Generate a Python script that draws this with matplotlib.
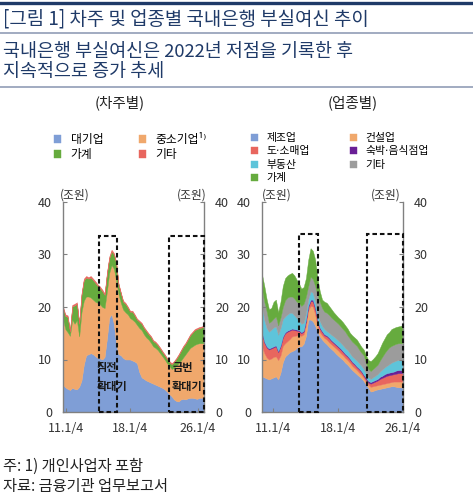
import matplotlib
matplotlib.use('Agg')
import numpy as np
import matplotlib.pyplot as plt
from matplotlib.lines import Line2D
from matplotlib.patches import Rectangle

plt.rcParams['font.family'] = ['Noto Sans CJK KR', 'DejaVu Sans']

W, H = 473, 500

# ---- data (조원, quarterly, 2011 -> latest) ----
# 차주별
large_firms = [5.2, 4.7, 4.4, 4.2, 4.6, 4.4, 4.3, 4.8, 6.0, 9.0,
               10.8, 11.0, 11.2, 11.0, 10.6, 10.3, 10.2, 10.0, 10.5, 14.0,
               18.0, 18.6, 16.8, 13.0, 11.0, 10.8, 10.3, 10.0, 10.0, 10.0,
               9.8, 9.6, 9.3, 7.6, 6.6, 6.3, 6.0, 5.8, 5.6, 5.4,
               5.2, 5.0, 4.8, 4.6, 4.3, 3.9, 3.4, 3.0, 2.4, 2.1,
               2.0, 2.4, 2.5, 2.4, 2.6, 2.7, 2.7, 2.6, 2.5, 2.7, 2.7, 2.7]
sme = [12.4, 11.1, 10.8, 10.3, 13.0, 12.4, 13.2, 9.6, 13.0, 12.2,
       11.2, 11.0, 10.6, 10.4, 10.4, 10.5, 10.3, 10.0, 9.3, 9.0,
       8.5, 9.4, 10.5, 12.0, 11.5, 10.0, 9.2, 9.0, 8.6, 7.9,
       7.8, 7.6, 7.3, 8.4, 9.0, 8.5, 8.2, 8.0, 7.6, 7.1,
       7.0, 6.8, 6.4, 6.0, 5.7, 5.4, 5.4, 5.2, 6.0, 6.7,
       7.3, 7.4, 7.9, 8.6, 9.0, 9.5, 9.8, 10.2, 10.5, 10.4, 10.4, 10.4]
household_a = [2.2, 2.5, 2.9, 0.8, 2.5, 3.5, 3.1, 2.4, 3.3, 3.9,
               3.6, 3.4, 3.8, 3.7, 3.6, 3.2, 3.1, 3.0, 2.5, 3.3,
               2.8, 2.6, 2.7, 3.3, 1.8, 1.8, 1.5, 1.6, 1.3, 1.2,
               1.5, 1.2, 1.0, 1.2, 1.2, 1.2, 1.2, 1.0, 1.1, 1.0,
               1.0, 0.9, 0.9, 0.8, 0.8, 0.8, 0.7, 0.9, 1.1, 1.3,
               1.5, 1.8, 2.0, 2.0, 2.2, 2.4, 2.6, 2.8, 2.8, 2.9, 3.0, 3.2]
other_a = [0.3, 0.3, 0.3, 0.2, 0.3, 0.3, 0.3, 0.3, 0.3, 0.3,
           0.3, 0.3, 0.3, 0.3, 0.3, 0.3, 0.3, 0.3, 0.3, 0.3,
           0.3, 0.3, 0.3, 0.3, 0.2, 0.2, 0.2, 0.2, 0.2, 0.2,
           0.2, 0.2, 0.2, 0.2, 0.2, 0.2, 0.2, 0.2, 0.2, 0.2,
           0.2, 0.2, 0.2, 0.2, 0.2, 0.2, 0.2, 0.2, 0.2, 0.2,
           0.2, 0.2, 0.2, 0.2, 0.2, 0.2, 0.2, 0.2, 0.2, 0.2, 0.2, 0.2]

# 업종별
manufacturing = [6.8, 6.6, 6.4, 6.2, 6.4, 6.6, 6.8, 6.2, 7.5, 9.5,
                 10.6, 11.0, 11.4, 11.6, 11.8, 12.2, 12.5, 12.5, 13.0, 14.5,
                 17.6, 17.6, 17.3, 16.4, 15.3, 14.4, 13.8, 13.3, 12.9, 12.4,
                 12.0, 11.6, 11.1, 10.7, 10.3, 9.9, 9.4, 9.0, 8.5, 8.0,
                 7.6, 7.2, 6.8, 6.4, 5.9, 5.2, 4.6, 3.9, 4.0, 4.2,
                 4.3, 4.4, 4.5, 4.6, 4.7, 4.8, 4.9, 4.9, 4.8, 4.7, 4.7, 4.6]
construction = [5.7, 4.6, 4.0, 3.8, 3.8, 3.9, 3.8, 3.7, 3.3, 3.1,
                2.5, 2.5, 2.5, 2.8, 2.7, 2.4, 2.2, 2.0, 1.8, 2.0,
                1.8, 2.6, 2.8, 2.2, 1.2, 0.8, 0.8, 0.8, 0.9, 0.9,
                0.9, 0.9, 1.0, 1.0, 0.9, 0.9, 0.9, 0.9, 0.9, 0.8,
                0.8, 0.8, 0.7, 0.7, 0.6, 0.6, 0.6, 0.9, 0.9, 0.8,
                0.8, 0.8, 0.8, 0.8, 0.8, 0.8, 0.8, 0.9, 1.0, 1.1, 1.1, 1.2]
retail = [2.5, 2.0, 1.9, 1.9, 1.9, 1.8, 1.9, 1.5, 1.7, 1.6,
          1.9, 1.8, 1.6, 1.3, 1.1, 0.9, 0.7, 0.5, 0.5, 0.8,
          0.6, 0.9, 1.0, 1.0, 0.9, 0.7, 0.6, 0.5, 0.6, 0.7,
          0.6, 0.6, 0.6, 0.6, 0.7, 0.6, 0.6, 0.6, 0.6, 0.6,
          0.6, 0.5, 0.6, 0.5, 0.4, 0.4, 0.4, 0.6, 0.7, 0.8,
          0.9, 1.1, 1.2, 1.3, 1.4, 1.4, 1.4, 1.4, 1.5, 1.6, 1.6, 1.6]
lodging = [0.2, 0.2, 0.2, 0.2, 0.2, 0.2, 0.2, 0.2, 0.2, 0.2,
           0.2, 0.2, 0.2, 0.2, 0.2, 0.2, 0.2, 0.2, 0.2, 0.3,
           0.3, 0.3, 0.3, 0.3, 0.2, 0.2, 0.2, 0.2, 0.2, 0.2,
           0.2, 0.2, 0.2, 0.2, 0.2, 0.2, 0.2, 0.2, 0.2, 0.2,
           0.2, 0.2, 0.2, 0.2, 0.2, 0.3, 0.3, 0.3, 0.3, 0.3,
           0.3, 0.4, 0.4, 0.5, 0.5, 0.5, 0.5, 0.5, 0.6, 0.6, 0.6, 0.6]
real_estate = [4.9, 4.1, 3.5, 3.2, 3.4, 3.6, 3.6, 3.1, 3.3, 3.3,
               3.0, 3.1, 3.2, 3.0, 2.6, 2.2, 1.9, 1.6, 1.5, 1.2,
               1.2, 1.6, 1.3, 1.1, 1.2, 1.2, 1.0, 1.0, 0.8, 0.9,
               1.0, 1.1, 1.1, 1.1, 1.1, 1.1, 1.1, 1.1, 1.0, 1.0,
               1.0, 1.1, 1.0, 1.0, 1.1, 0.8, 0.7, 0.6, 0.7, 0.8,
               0.9, 1.0, 1.2, 1.3, 1.4, 1.6, 1.8, 1.9, 1.9, 1.9, 2.0, 2.1]
other_b = [3.2, 3.5, 3.2, 1.7, 1.6, 1.7, 1.9, 1.8, 2.0, 2.3,
           3.1, 3.2, 3.1, 3.1, 3.2, 3.1, 3.3, 3.4, 3.6, 3.2,
           2.5, 2.8, 2.6, 3.0, 3.5, 3.7, 3.4, 3.3, 3.5, 3.4,
           3.3, 3.2, 3.2, 3.2, 3.1, 3.1, 3.1, 2.8, 2.8, 2.8,
           2.8, 2.8, 2.6, 2.5, 2.6, 2.0, 1.6, 1.5, 1.6, 1.7,
           1.8, 2.1, 2.4, 2.7, 3.0, 3.2, 3.2, 3.2, 3.2, 3.2, 3.1, 3.0]
household_b = [2.9, 3.0, 2.3, 2.6, 2.5, 3.2, 3.2, 2.5, 3.0, 4.0,
               4.2, 4.2, 4.3, 4.5, 4.4, 4.2, 3.7, 3.3, 3.2, 3.5,
               5.0, 5.4, 5.4, 5.0, 3.2, 2.0, 1.6, 1.9, 1.9, 1.7,
               1.6, 1.4, 1.3, 1.2, 1.3, 1.3, 1.2, 1.3, 1.1, 1.2,
               1.2, 1.2, 1.2, 1.1, 1.1, 1.5, 1.7, 1.9, 1.9, 2.0,
               2.2, 2.4, 2.7, 2.8, 3.0, 2.9, 3.2, 3.2, 3.2, 3.2, 3.3, 3.5]

xtick_labels = ['11.1/4', '18.1/4', '26.1/4']
yticks = [0, 10, 20, 30, 40]

# colours
c_blue = '#7f9ed6'
c_orange = '#f0a86c'
c_green = '#66ab3e'
c_red = '#e8665e'
c_purple = '#6a1f96'
c_cyan = '#5ec4da'
c_gray = '#9c9c9c'
navy = '#1f3a68'


def fx(px):
    return px / W


def fy(py):
    return 1 - py / H


def px_axes(fig, l, t, r, b):
    return fig.add_axes([fx(l), fy(b), (r - l) / W, (b - t) / H])


def style_axes(ax, tick_pos):
    ax.set_xlim(0, len(large_firms) - 1)
    ax.set_ylim(0, 40)
    ax.set_yticks(yticks)
    ax.set_xticks(tick_pos)
    ax.set_xticklabels(xtick_labels)
    ax.spines['top'].set_visible(False)
    for s in ['left', 'right', 'bottom']:
        ax.spines[s].set_color('#808080')
        ax.spines[s].set_linewidth(1.0)
    ax.tick_params(axis='y', left=True, right=True, labelleft=True,
                   labelright=True, direction='in', length=3, pad=8,
                   labelsize=9, color='#808080', labelcolor='#333333')
    ax.tick_params(axis='x', direction='in', length=3, pad=7,
                   labelsize=9, color='#808080', labelcolor='#333333')
    ax.set_facecolor('none')


def add_boxes(ax, spans, top=33.5):
    for x0, x1 in spans:
        ax.add_patch(Rectangle((x0, 0), x1 - x0, top, fill=False,
                               ec='#111111', lw=1.5, ls=(0, (2.2, 1.4)),
                               clip_on=False, zorder=5))


fig = plt.figure(figsize=(W / 100, H / 100), dpi=100)

# header lines and text
fig.add_artist(Line2D([0, 1], [fy(3), fy(3)], color=navy, lw=2.4))
fig.add_artist(Line2D([0, 1], [fy(33), fy(33)], color='#8795b0', lw=1.1))
fig.add_artist(Line2D([0, 1], [fy(87), fy(87)], color='#8795b0', lw=1.1))
fig.text(fx(3), fy(19), '[그림 1] 차주 및 업종별 국내은행 부실여신 추이',
         fontsize=13.6, color=navy, ha='left', va='center')
fig.text(fx(3), fy(52), '국내은행 부실여신은 2022년 저점을 기록한 후',
         fontsize=13.3, color=navy, ha='left', va='center')
fig.text(fx(3), fy(72), '지속적으로 증가 추세',
         fontsize=13.3, color=navy, ha='left', va='center')
fig.text(fx(120), fy(103), '(차주별)', fontsize=10.5, color='#222222',
         ha='center', va='center')
fig.text(fx(353), fy(103), '(업종별)', fontsize=10.5, color='#222222',
         ha='center', va='center')

x = np.arange(len(large_firms))

# 차주별 chart
ax1 = px_axes(fig, 63, 202, 204, 412)
polys1 = ax1.stackplot(x, large_firms, sme, household_a, other_a,
                       colors=[c_blue, c_orange, c_green, c_red],
                       edgecolor='face', linewidth=0.3)
style_axes(ax1, [1.3, 29.0, 58.2])
add_boxes(ax1, [(15.6, 23.4), (45.9, 61)])
ax1.text(14.7, 8.4, '직전', fontsize=8, fontweight='bold', color='#1a1a1a',
         va='center', ha='left', zorder=6)
ax1.text(14.7, 4.8, '확대기', fontsize=8, fontweight='bold', color='#1a1a1a',
         va='center', ha='left', zorder=6)
ax1.text(47.2, 8.4, '금번', fontsize=8, fontweight='bold', color='#1a1a1a',
         va='center', ha='left', zorder=6)
ax1.text(47.2, 4.8, '확대기', fontsize=8, fontweight='bold', color='#1a1a1a',
         va='center', ha='left', zorder=6)

# 업종별 chart
ax2 = px_axes(fig, 262, 202, 403, 412)
polys2 = ax2.stackplot(x, manufacturing, construction, retail, lodging,
                       real_estate, other_b, household_b,
                       colors=[c_blue, c_orange, c_red, c_purple, c_cyan,
                               c_gray, c_green],
                       edgecolor='face', linewidth=0.3)
style_axes(ax2, [4.9, 32.7, 61.0])
add_boxes(ax2, [(16.1, 24.2), (45.3, 61)], top=33.9)

# unit labels
for xpos, ha in [(60, 'left'), (207, 'right'), (262, 'left'), (401, 'right')]:
    fig.text(fx(xpos), fy(195), '(조원)', fontsize=8.5, color='#333333',
             ha=ha, va='center')

# legends
fig.legend([polys1[0], polys1[2], polys1[1], polys1[3]],
           ['대기업', '가계', '중소기업¹⁾', '기타'],
           loc='upper left', bbox_to_anchor=(fx(54), fy(133)), ncol=2,
           frameon=False, fontsize=8.5, handlelength=0.6, handleheight=0.6,
           handletextpad=0.8, columnspacing=3.05, labelspacing=0.18,
           borderaxespad=0, borderpad=0)
fig.legend([polys2[0], polys2[2], polys2[4], polys2[6],
            polys2[1], polys2[3], polys2[5]],
           ['제조업', '도⋅소매업', '부동산', '가계', '건설업', '숙박⋅음식점업', '기타'],
           loc='upper left', bbox_to_anchor=(fx(251), fy(133)), ncol=2,
           frameon=False, fontsize=7.8, handlelength=0.65, handleheight=0.65,
           handletextpad=0.75, columnspacing=3.75, labelspacing=0.32,
           borderaxespad=0, borderpad=0)

# footnotes
fig.text(fx(3), fy(466), '주: 1) 개인사업자 포함', fontsize=11,
         color='#222222', ha='left', va='center')
fig.text(fx(3), fy(487), '자료: 금융기관 업무보고서', fontsize=11,
         color='#222222', ha='left', va='center')

fig.savefig('out.png', dpi=100, facecolor='white')
